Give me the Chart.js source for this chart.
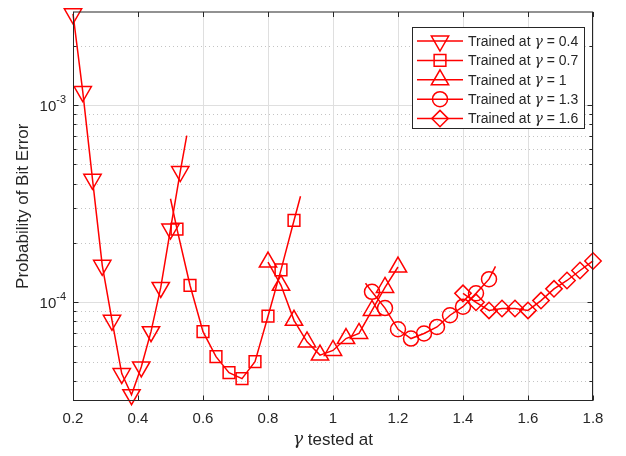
<!DOCTYPE html>
<html>
<head>
<meta charset="utf-8">
<script src="https://cdn.jsdelivr.net/npm/chart.js@4.4.1/dist/chart.umd.min.js"></script>
<style>
html,body{margin:0;padding:0;background:#fff}
#wrap{width:626px;height:456px}
</style>
</head>
<body>
<div id="wrap"><canvas id="berChart" width="626" height="456"></canvas></div>
<script>
// BER measured over gamma, one curve per training gamma
const gamma04=[0.20,0.23,0.26,0.29,0.32,0.35,0.38,0.41,0.44,0.47,0.50,0.53,0.55];
const pe04=[2.9e-3,1.17e-3,4.2e-4,1.54e-4,8.1e-5,4.35e-5,3.4e-5,4.7e-5,7.1e-5,1.19e-4,2.35e-4,4.6e-4,7.0e-4];
const gamma07=[0.50,0.52,0.56,0.60,0.64,0.68,0.72,0.76,0.80,0.84,0.88,0.90];
const pe07=[3.35e-4,2.35e-4,1.22e-4,7.1e-5,5.3e-5,4.4e-5,4.1e-5,5.0e-5,8.5e-5,1.46e-4,2.6e-4,3.45e-4];
const gamma10=[0.80,0.84,0.88,0.92,0.96,1.00,1.04,1.08,1.12,1.16,1.20];
const pe10=[1.6e-4,1.22e-4,8.1e-5,6.3e-5,5.4e-5,5.7e-5,6.55e-5,6.95e-5,9.1e-5,1.19e-4,1.51e-4];
const gamma13=[1.10,1.12,1.16,1.20,1.24,1.28,1.32,1.36,1.40,1.44,1.48,1.50];
const pe13=[1.25e-4,1.13e-4,9.35e-5,7.3e-5,6.55e-5,6.95e-5,7.5e-5,8.6e-5,9.5e-5,1.11e-4,1.31e-4,1.52e-4];
const gamma16=[1.40,1.44,1.48,1.52,1.56,1.60,1.64,1.68,1.72,1.76,1.80];
const pe16=[1.11e-4,1.0e-4,9.1e-5,9.3e-5,9.3e-5,9.1e-5,1.02e-4,1.17e-4,1.29e-4,1.45e-4,1.62e-4];
const trainedAt=['0.4','0.7','1','1.3','1.6'];
const xTicks=[0.2,0.4,0.6,0.8,1.0,1.2,1.4,1.6,1.8];
const yDecades=[1e-4,1e-3];
const X_MIN=0.2,X_MAX=1.8,Y_MIN=3.16e-5,Y_MAX=2.98e-3;

const RED='#ff0000',AX='#262626';
const FONT='"Liberation Sans", Arial, Helvetica, sans-serif';
const GREEK='"DejaVu Serif", "Liberation Serif", serif';

// marker per curve; 'bare' = line vertices drawn without a marker
const curves=[
  {xs:gamma04,ys:pe04,style:'triangle',rot:180,r:10,bare:[12]},
  {xs:gamma07,ys:pe07,style:'rect',rot:0,r:8.3,bare:[0,11]},
  {xs:gamma10,ys:pe10,style:'triangle',rot:0,r:10,bare:[]},
  {xs:gamma13,ys:pe13,style:'circle',rot:0,r:7.5,bare:[0,11]},
  {xs:gamma16,ys:pe16,style:'rectRot',rot:0,r:8.2,bare:[]}
];

const datasets=curves.map((c,i)=>({
  label:'Trained at γ = '+trainedAt[i],
  data:c.xs.map((g,k)=>({x:g,y:c.ys[k]})),
  borderColor:RED,borderWidth:1.5,
  pointStyle:c.style,pointRotation:c.rot,
  pointRadius:ctx=>c.bare.includes(ctx.dataIndex)?0:c.r,
  pointBorderColor:RED,pointBackgroundColor:'rgba(0,0,0,0)',pointBorderWidth:1.5,
  tension:0,clip:false
}));

function hline(ctx,x1,x2,y){ctx.beginPath();ctx.moveTo(x1,y);ctx.lineTo(x2,y);ctx.stroke();}
function vline(ctx,x,y1,y2){ctx.beginPath();ctx.moveTo(x,y1);ctx.lineTo(x,y2);ctx.stroke();}

// left-aligned text where every γ is set in italic serif
function richText(ctx,str,x,y,size){
  let cx=x;
  str.split(/(γ)/).forEach(part=>{
    if(!part)return;
    ctx.font=(part==='γ'?'italic '+size+'px '+GREEK:size+'px '+FONT);
    ctx.fillText(part,cx,y);
    cx+=ctx.measureText(part).width;
  });
  return cx-x;
}
function richWidth(ctx,str,size){
  let w=0;
  str.split(/(γ)/).forEach(part=>{
    if(!part)return;
    ctx.font=(part==='γ'?'italic '+size+'px '+GREEK:size+'px '+FONT);
    w+=ctx.measureText(part).width;
  });
  return w;
}

// minor log positions 2..9 x 10^n inside the y range
function minorLogs(){
  const out=[];
  for(let n=-6;n<=-2;n++)for(let m=2;m<=9;m++){const v=m*Math.pow(10,n);if(v>Y_MIN&&v<Y_MAX)out.push(v);}
  return out;
}

const matlabAxes={
  id:'matlabAxes',
  beforeDatasetsDraw(chart){
    const {ctx,chartArea:a,scales:{x,y}}=chart;
    ctx.save();
    ctx.lineWidth=1;
    // dotted minor grid
    ctx.strokeStyle='#c4c4c4';ctx.setLineDash([1,3]);
    minorLogs().forEach(v=>hline(ctx,a.left,a.right,Math.round(y.getPixelForValue(v))+0.5));
    // solid major grid
    ctx.setLineDash([]);ctx.strokeStyle='#dfdfdf';
    xTicks.forEach(v=>vline(ctx,Math.round(x.getPixelForValue(v))+0.5,a.top,a.bottom));
    yDecades.forEach(v=>hline(ctx,a.left,a.right,Math.round(y.getPixelForValue(v))+0.5));
    ctx.restore();
  },
  afterDraw(chart){
    const {ctx,chartArea:a,scales:{x,y}}=chart;
    ctx.save();
    ctx.strokeStyle=AX;ctx.lineWidth=1;
    const L=a.left+0.5,R=a.right-0.5,T=a.top+0.5,B=a.bottom-0.5;
    ctx.strokeRect(L,T,R-L,B-T);
    // inward tick marks on all four sides
    xTicks.forEach(v=>{const px=Math.round(x.getPixelForValue(v))+0.5;vline(ctx,px,B,B-5);vline(ctx,px,T,T+5);});
    yDecades.forEach(v=>{const py=Math.round(y.getPixelForValue(v))+0.5;hline(ctx,L,L+5,py);hline(ctx,R,R-5,py);});
    minorLogs().forEach(v=>{const py=Math.round(y.getPixelForValue(v))+0.5;hline(ctx,L,L+3,py);hline(ctx,R,R-3,py);});

    // y tick labels 10^n
    ctx.fillStyle=AX;ctx.textBaseline='middle';
    yDecades.forEach(v=>{
      const py=y.getPixelForValue(v);
      const exp=String(Math.round(Math.log10(v)));
      ctx.font='11px '+FONT;ctx.textAlign='right';
      ctx.fillText(exp,66,py-5);
      const w=ctx.measureText(exp).width;
      ctx.font='15px '+FONT;
      ctx.fillText('10',66-w,py+2);
    });

    // axis titles
    ctx.textAlign='left';
    const xt='γ tested at',xw=richWidth(ctx,xt,17);
    richText(ctx,xt,(a.left+a.right)/2-xw/2,440,17);
    ctx.save();
    ctx.font='17px '+FONT;ctx.textAlign='center';
    ctx.translate(23,(a.top+a.bottom)/2);ctx.rotate(-Math.PI/2);
    ctx.fillText('Probability of Bit Error',0,0);
    ctx.restore();

    // legend box
    const lx=412.5,ly=27.5,lw=172,lh=101;
    ctx.fillStyle='#fff';ctx.fillRect(lx,ly,lw,lh);
    ctx.strokeStyle=AX;ctx.strokeRect(lx,ly,lw,lh);
    chart.data.datasets.forEach((ds,i)=>{
      const ry=41+i*19.4,c=curves[i];
      ctx.strokeStyle=RED;ctx.lineWidth=1.5;
      hline(ctx,417,463,ry);
      ctx.fillStyle='rgba(0,0,0,0)';
      Chart.helpers.drawPoint(ctx,{pointStyle:c.style,rotation:c.rot,radius:c.r,borderWidth:1.5},440,ry);
      ctx.fillStyle=AX;ctx.textAlign='left';ctx.textBaseline='middle';
      richText(ctx,ds.label,468,ry+1,14);
    });
    ctx.restore();
  }
};

new Chart(document.getElementById('berChart'),{
  type:'line',
  data:{datasets},
  options:{
    responsive:false,animation:false,devicePixelRatio:1,
    layout:{padding:{top:10,right:33,left:0,bottom:0}},
    plugins:{legend:{display:false},tooltip:{enabled:false}},
    scales:{
      x:{type:'linear',min:X_MIN,max:X_MAX,
        grid:{display:false,drawTicks:false},border:{display:false},
        ticks:{stepSize:0.2,padding:9,color:AX,maxRotation:0,autoSkip:false,
          font:{family:FONT,size:15},callback:v=>String(+v.toFixed(1))},
        afterFit:s=>{s.height=55;}},
      y:{type:'logarithmic',min:Y_MIN,max:Y_MAX,
        grid:{display:false,drawTicks:false},border:{display:false},
        ticks:{display:false},
        afterFit:s=>{s.width=73;}}
    }
  },
  plugins:[matlabAxes]
});
</script>
</body>
</html>
